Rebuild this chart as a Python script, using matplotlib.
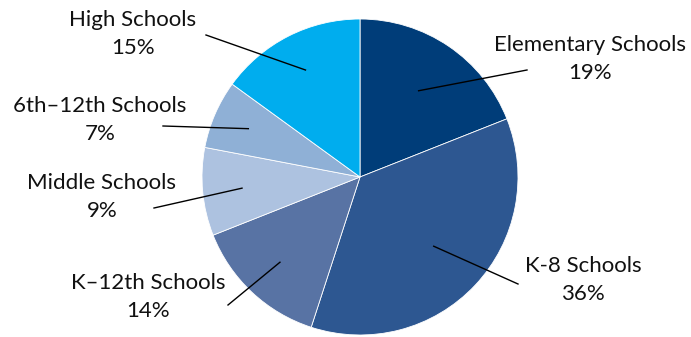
import matplotlib.pyplot as plt
import numpy as np

plt.rcParams['font.family'] = ['Lato', 'DejaVu Sans']

categories = ['Elementary Schools', 'K-8 Schools', 'K\u201312th Schools',
              'Middle Schools', '6th\u201312th Schools', 'High Schools']
shares = [19, 36, 14, 9, 7, 15]
colors = ['#003d79', '#2d5791', '#5873a4', '#adc2e0', '#8fb0d6', '#00adee']

# layout in pixel space (y measured from bottom)
W, H = 691, 337
center = (360, H - 177)
radius = 158
tip_frac = [0.66, 0.64, 0.74, 0.75, 0.77, 0.76]
line_end = [(527, 70), (518, 284), (228, 305), (154, 208), (163, 126), (206, 35)]
text_pos = [(590, 59), (583, 280), (148, 297), (102, 197), (100, 120), (133, 34)]

fig = plt.figure(figsize=(W / 100, H / 100), dpi=100)
ax = fig.add_axes([0, 0, 1, 1])
ax.set_xlim(0, W)
ax.set_ylim(0, H)
ax.axis('off')

wedges, _ = ax.pie(shares, colors=colors, startangle=90, counterclock=False,
                   center=center, radius=radius,
                   wedgeprops=dict(edgecolor='white', linewidth=0.6))
ax.set_xlim(0, W)
ax.set_ylim(0, H)
ax.set_aspect('equal')

for i, w in enumerate(wedges):
    ang = np.deg2rad((w.theta1 + w.theta2) / 2)
    tx = center[0] + tip_frac[i] * radius * np.cos(ang)
    ty = center[1] + tip_frac[i] * radius * np.sin(ang)
    ex, ey = line_end[i]
    ax.plot([tx, ex], [ty, H - ey], color='black', lw=1)
    lx, ly = text_pos[i]
    ax.text(lx, H - ly, '%s\n%d%%' % (categories[i], shares[i]), ha='center', va='center',
            fontsize=16, linespacing=1.5, color='#111111')

fig.savefig('out.png', dpi=100)
